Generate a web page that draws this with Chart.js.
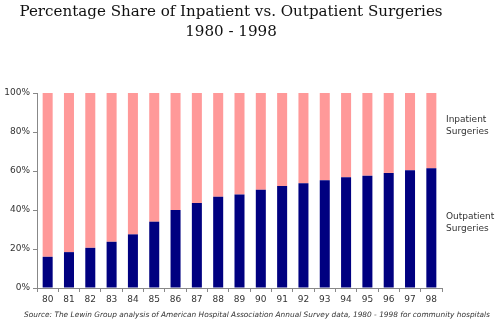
<!DOCTYPE html>
<html>
<head>
<meta charset="utf-8">
<script src="https://cdn.jsdelivr.net/npm/chart.js@4/dist/chart.umd.min.js"></script>
<style>
  html, body { margin: 0; padding: 0; background: #fff; }
  #wrap { width: 500px; height: 329px; position: relative; }
</style>
</head>
<body>
<div id="wrap"><canvas id="chart" width="500" height="329"></canvas></div>
<script>
const years = ['80','81','82','83','84','85','86','87','88','89','90','91','92','93','94','95','96','97','98'];
const outpatient = [16.0, 18.4, 20.6, 23.7, 27.5, 34.0, 40.0, 43.6, 46.8, 48.0, 50.4, 52.3, 53.7, 55.2, 56.8, 57.6, 59.0, 60.4, 61.4];
const inpatient  = [84.0, 81.6, 79.4, 76.3, 72.5, 66.0, 60.0, 56.4, 53.2, 52.0, 49.6, 47.7, 46.3, 44.8, 43.2, 42.4, 41.0, 39.6, 38.6];
const yTicks = [0, 20, 40, 60, 80, 100];

const titleLines = ['Percentage Share of Inpatient vs. Outpatient Surgeries', '1980 - 1998'];
const sourceNote = 'Source: The Lewin Group analysis of American Hospital Association Annual Survey data, 1980 - 1998 for community hospitals';

// texts around the plot (title, side labels, source)
const textPlugin = {
    id: 'texts',
    afterDraw(chart) {
        const ctx = chart.ctx;
        ctx.save();
        ctx.fillStyle = '#111';
        ctx.textAlign = 'center';
        ctx.textBaseline = 'middle';
        ctx.font = '15.1px "DejaVu Serif", serif';
        ctx.fillText(titleLines[0], 231, 12);
        ctx.fillText(titleLines[1], 231, 32);

        ctx.fillStyle = '#333';
        ctx.textAlign = 'left';
        ctx.font = '9px "DejaVu Sans", sans-serif';
        ctx.fillText('Inpatient', 446, 120);
        ctx.fillText('Surgeries', 446, 132);
        ctx.fillText('Outpatient', 446, 217);
        ctx.fillText('Surgeries', 446, 229);

        ctx.textAlign = 'center';
        ctx.font = 'italic 7.4px "DejaVu Sans", sans-serif';
        ctx.fillText(sourceNote, 257, 315);
        ctx.restore();
    }
};

new Chart(document.getElementById('chart'), {
    type: 'bar',
    data: {
        labels: years,
        datasets: [
            { label: 'Outpatient Surgeries', data: outpatient, backgroundColor: '#000080', barPercentage: 0.47, categoryPercentage: 1 },
            { label: 'Inpatient Surgeries', data: inpatient, backgroundColor: '#FF9999', barPercentage: 0.47, categoryPercentage: 1 }
        ]
    },
    options: {
        responsive: false,
        animation: false,
        layout: { padding: { top: 93, right: 58, bottom: 0, left: 0 } },
        plugins: { legend: { display: false }, title: { display: false }, tooltip: { enabled: false } },
        scales: {
            x: {
                stacked: true,
                offset: true,
                grid: { display: true, drawOnChartArea: false, offset: true, tickLength: 4, color: '#888' },
                border: { color: '#888' },
                ticks: { color: '#333', font: { family: '"DejaVu Sans", sans-serif', size: 9 }, padding: 2, maxRotation: 0 },
                afterFit(scale) { scale.height = 41; }
            },
            y: {
                stacked: true,
                min: 0,
                max: 100,
                afterBuildTicks(scale) { scale.ticks = yTicks.map(v => ({ value: v })); },
                grid: { display: true, drawOnChartArea: false, tickLength: 4, color: '#888' },
                border: { color: '#888' },
                ticks: {
                    color: '#333',
                    font: { family: '"DejaVu Sans", sans-serif', size: 9 },
                    padding: 3,
                    callback: v => v + '%'
                },
                afterFit(scale) { scale.width = 37; }
            }
        }
    },
    plugins: [textPlugin]
});
</script>
</body>
</html>
